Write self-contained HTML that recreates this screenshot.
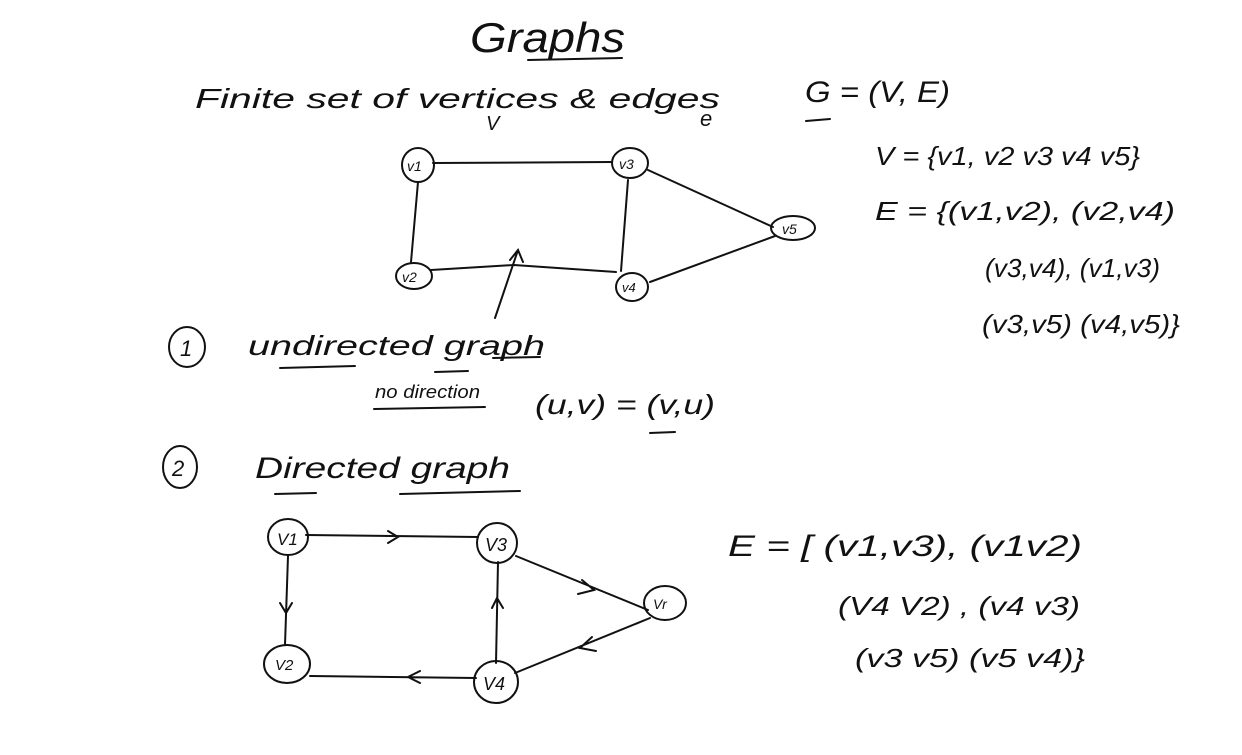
<!DOCTYPE html>
<html><head><meta charset="utf-8"><style>
html,body{margin:0;padding:0;background:#fff;}
svg{display:block;}
text{font-family:"Liberation Sans",sans-serif;fill:#111;font-style:italic;}
.s{stroke:#111;stroke-width:2;fill:none;stroke-linecap:round;}
</style></head><body>
<svg width="1242" height="755" viewBox="0 0 1242 755">
<g>
<text x="470" y="52" font-size="42" textLength="155" lengthAdjust="spacingAndGlyphs">Graphs</text>
<path class="s" d="M528 60 L622 58"/>
</g>
<g>
<text x="195" y="108" font-size="28" textLength="525" lengthAdjust="spacingAndGlyphs">Finite set of vertices &amp; edges</text>
<text x="486" y="130" font-size="20">V</text>
<text x="700" y="126" font-size="22">e</text>
<text x="805" y="102" font-size="30" textLength="145" lengthAdjust="spacingAndGlyphs">G = (V, E)</text>
<path class="s" d="M806 121 L830 119"/>
</g>
<g>
<path class="s" d="M433 163 L612 162 M418 182 L411 262 M431 270 L514 265 L616 272 M628 180 L621 271 M648 170 L773 227 M650 282 L775 236"/>
<path class="s" d="M495 318 L518 250 M510 260 L518 250 L523 262"/>
<ellipse class="s" cx="418" cy="165" rx="16" ry="17"/><text x="407" y="171" font-size="14">v1</text>
<ellipse class="s" cx="630" cy="163" rx="18" ry="15"/><text x="619" y="169" font-size="14">v3</text>
<ellipse class="s" cx="793" cy="228" rx="22" ry="12"/><text x="782" y="234" font-size="14">v5</text>
<ellipse class="s" cx="414" cy="276" rx="18" ry="13"/><text x="402" y="282" font-size="14">v2</text>
<ellipse class="s" cx="632" cy="287" rx="16" ry="14"/><text x="622" y="292" font-size="13">v4</text>
</g>
<g>
<text x="875" y="165" font-size="26" textLength="265" lengthAdjust="spacingAndGlyphs">V = {v1, v2 v3 v4 v5}</text>
<text x="875" y="220" font-size="26" textLength="300" lengthAdjust="spacingAndGlyphs">E = {(v1,v2), (v2,v4)</text>
<text x="985" y="277" font-size="26" textLength="175" lengthAdjust="spacingAndGlyphs">(v3,v4), (v1,v3)</text>
<text x="982" y="333" font-size="26" textLength="198" lengthAdjust="spacingAndGlyphs">(v3,v5) (v4,v5)}</text>
</g>
<g>
<ellipse class="s" cx="187" cy="347" rx="18" ry="20"/><text x="180" y="356" font-size="22">1</text>
<text x="248" y="355" font-size="28" textLength="297" lengthAdjust="spacingAndGlyphs">undirected graph</text>
<path class="s" d="M280 368 L355 366 M435 372 L468 371 M493 358 L540 357"/>
<text x="375" y="398" font-size="18" textLength="105" lengthAdjust="spacingAndGlyphs">no direction</text>
<path class="s" d="M374 409 L485 407"/>
<text x="535" y="414" font-size="28" textLength="180" lengthAdjust="spacingAndGlyphs">(u,v) = (v,u)</text>
<path class="s" d="M650 433 L675 432"/>
</g>
<g>
<ellipse class="s" cx="180" cy="467" rx="17" ry="21"/><text x="172" y="476" font-size="22">2</text>
<text x="255" y="478" font-size="30" textLength="255" lengthAdjust="spacingAndGlyphs">Directed graph</text>
<path class="s" d="M275 494 L316 493 M400 494 L520 491"/>
</g>
<g>
<path class="s" d="M306 535 L478 537 M388 531 L398 537 L388 543"/>
<path class="s" d="M288 556 L285 645 M280 603 L286 613 L292 603"/>
<path class="s" d="M496 663 L498 562 M492 608 L497 598 L503 608"/>
<path class="s" d="M516 556 L648 610 M582 580 L594 590 L578 594"/>
<path class="s" d="M650 618 L515 673 M592 637 L580 648 L596 651"/>
<path class="s" d="M476 678 L310 676 M420 671 L408 677 L420 683"/>
<ellipse class="s" cx="288" cy="537" rx="20" ry="18"/><text x="277" y="545" font-size="17">V1</text>
<ellipse class="s" cx="497" cy="543" rx="20" ry="20"/><text x="485" y="551" font-size="18">V3</text>
<ellipse class="s" cx="665" cy="603" rx="21" ry="17"/><text x="653" y="609" font-size="14">Vr</text>
<ellipse class="s" cx="287" cy="664" rx="23" ry="19"/><text x="275" y="670" font-size="15">V2</text>
<ellipse class="s" cx="496" cy="682" rx="22" ry="21"/><text x="483" y="690" font-size="18">V4</text>
</g>
<g>
<text x="728" y="556" font-size="30" textLength="354" lengthAdjust="spacingAndGlyphs">E = [ (v1,v3), (v1v2)</text>
<text x="838" y="615" font-size="26" textLength="242" lengthAdjust="spacingAndGlyphs">(V4 V2) , (v4 v3)</text>
<text x="855" y="667" font-size="26" textLength="230" lengthAdjust="spacingAndGlyphs">(v3 v5) (v5 v4)}</text>
</g>
</svg>
</body></html>
